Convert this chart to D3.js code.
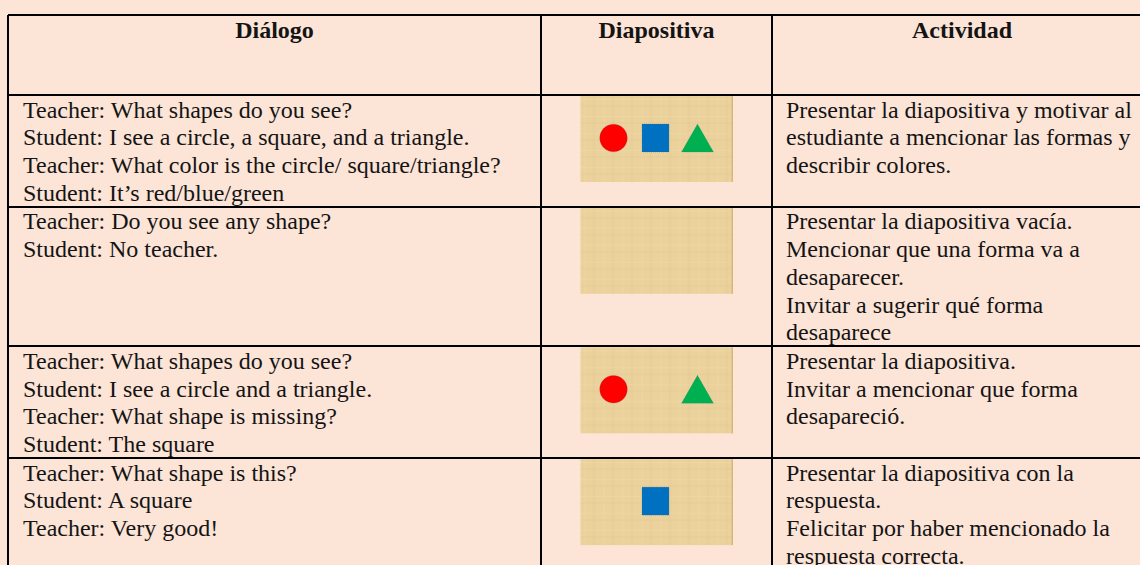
<!DOCTYPE html>
<html>
<head>
<meta charset="utf-8">
<script src="https://cdn.jsdelivr.net/npm/d3@7"></script>
<style>
  html, body { margin: 0; padding: 0; background: #fce4d7; overflow: hidden; }
  svg { display: block; }
</style>
</head>
<body>
<svg id="chart" width="1140" height="565"></svg>
<script>
// ---- data ----
const headers = ["Diálogo", "Diapositiva", "Actividad"];

const dialogue = [
  ["Teacher: What shapes do you see?",
   "Student: I see a circle, a square, and a triangle.",
   "Teacher: What color is the circle/ square/triangle?",
   "Student: It’s red/blue/green"],
  ["Teacher: Do you see any shape?",
   "Student: No teacher."],
  ["Teacher: What shapes do you see?",
   "Student: I see a circle and a triangle.",
   "Teacher: What shape is missing?",
   "Student: The square"],
  ["Teacher: What shape is this?",
   "Student: A square",
   "Teacher: Very good!"]
];

const activity = [
  ["Presentar la diapositiva y motivar al",
   "estudiante a mencionar las formas y",
   "describir colores."],
  ["Presentar la diapositiva vacía.",
   "Mencionar que una forma va a",
   "desaparecer.",
   "Invitar a sugerir qué forma",
   "desaparece"],
  ["Presentar la diapositiva.",
   "Invitar a mencionar que forma",
   "desapareció."],
  ["Presentar la diapositiva con la",
   "respuesta.",
   "Felicitar por haber mencionado la",
   "respuesta correcta."]
];

const shapeKinds = ["circle", "square", "triangle"];
const shapeColors = ["#ff0000", "#0070c0", "#00b050"];
const slideShapes = [
  ["circle", "square", "triangle"],
  [],
  ["circle", "triangle"],
  ["square"]
];

// ---- layout ----
const svg = d3.select("#chart");
const W = 1140, H = 565;
const lineH = 27.7;
const fontSize = 24;
const colEdges = [8, 541, 772, 1152];
const tableTop = 15, headerH = 80;

svg.append("rect").attr("width", W).attr("height", H).attr("fill", "#fce4d7");

// row geometry computed from line counts
const rowHeights = dialogue.map((d, i) => Math.max(d.length, activity[i].length) * lineH + 1);
const rowTops = [];
let acc = tableTop + headerH;
rowHeights.forEach(h => { rowTops.push(acc); acc += h; });
const tableBottom = acc;

const colorScale = d3.scaleOrdinal().domain(shapeKinds).range(shapeColors);

// slide texture pattern
const defs = svg.append("defs");
const pat = defs.append("pattern").attr("id", "paper")
  .attr("patternUnits", "userSpaceOnUse").attr("width", 19).attr("height", 17);
pat.append("rect").attr("width", 19).attr("height", 17).attr("fill", "#ebd29c");
pat.append("rect").attr("x", 12).attr("width", 3).attr("height", 17).attr("fill", "#e2c68f").attr("opacity", 0.35);
pat.append("rect").attr("x", 4).attr("width", 1).attr("height", 17).attr("fill", "#f0d9a6").attr("opacity", 0.5);
pat.append("rect").attr("y", 9).attr("width", 19).attr("height", 2).attr("fill", "#e4c892").attr("opacity", 0.3);
pat.append("rect").attr("y", 3).attr("width", 19).attr("height", 1).attr("fill", "#f2ddab").attr("opacity", 0.45);

const textG = svg.append("g")
  .attr("font-family", "'Liberation Serif', 'Times New Roman', serif")
  .attr("font-size", fontSize)
  .attr("fill", "#141414");

// header
textG.selectAll("text.head").data(headers).join("text")
  .attr("class", "head")
  .attr("x", (d, i) => (colEdges[i] + colEdges[i + 1]) / 2)
  .attr("y", tableTop + 23)
  .attr("text-anchor", "middle")
  .attr("font-weight", "bold")
  .text(d => d);

// body rows
const rows = textG.selectAll("g.row").data(dialogue).join("g")
  .attr("class", "row")
  .attr("transform", (d, i) => `translate(0,${rowTops[i]})`);

rows.selectAll("text.dlg").data(d => d).join("text")
  .attr("class", "dlg")
  .attr("x", colEdges[0] + 15)
  .attr("y", (d, j) => 22.7 + j * lineH)
  .text(d => d);

rows.selectAll("text.act").data((d, i) => activity[i]).join("text")
  .attr("class", "act")
  .attr("x", colEdges[2] + 14)
  .attr("y", (d, j) => 22.7 + j * lineH)
  .text(d => d);

// slides
const slideW = 152, slideH = 86;
const slideX = (colEdges[1] + colEdges[2]) / 2 - slideW / 2;
const xShape = d3.scalePoint().domain(shapeKinds).range([33, 117]);

const slides = svg.selectAll("g.slide").data(slideShapes).join("g")
  .attr("class", "slide")
  .attr("transform", (d, i) => `translate(${slideX},${rowTops[i] + 1})`);

slides.append("rect").attr("width", slideW).attr("height", slideH).attr("fill", "url(#paper)");
slides.append("rect").attr("x", slideW - 1).attr("width", 1.5).attr("height", slideH).attr("fill", "#d6b87e");

const cy = 42;
slides.each(function(d) {
  const g = d3.select(this);
  d.forEach(kind => {
    const cx = xShape(kind);
    const fill = colorScale(kind);
    let el;
    if (kind === "circle") {
      el = g.append("circle").attr("cx", cx).attr("cy", cy).attr("r", 13.8);
    } else if (kind === "square") {
      el = g.append("rect").attr("x", cx - 13.5).attr("y", cy - 14).attr("width", 27).attr("height", 28);
    } else {
      const s = 16, top = cy - 14, bot = cy + 14;
      el = g.append("path").attr("d", `M${cx},${top}L${cx + s},${bot}L${cx - s},${bot}Z`);
    }
    el.attr("fill", fill).attr("stroke", "#4a6a7a").attr("stroke-width", 0.6)
      .attr("stroke-dasharray", "1,1").attr("stroke-opacity", 0.6);
  });
});

// grid lines
const lines = svg.append("g").attr("stroke", "#000").attr("shape-rendering", "crispEdges");
// horizontal
lines.append("line").attr("x1", colEdges[0]).attr("x2", W + 20)
  .attr("y1", tableTop).attr("y2", tableTop).attr("stroke-width", 2);
lines.append("line").attr("x1", colEdges[0]).attr("x2", W + 20)
  .attr("y1", tableTop + headerH).attr("y2", tableTop + headerH).attr("stroke-width", 2);
lines.selectAll("line.rowsep").data(rowTops.slice(1)).join("line")
  .attr("class", "rowsep")
  .attr("x1", colEdges[0]).attr("x2", W + 20)
  .attr("y1", d => d).attr("y2", d => d).attr("stroke-width", 2);
// vertical
lines.selectAll("line.colsep").data(colEdges.slice(0, 3)).join("line")
  .attr("class", "colsep")
  .attr("x1", d => d).attr("x2", d => d)
  .attr("y1", tableTop).attr("y2", tableBottom)
  .attr("stroke-width", 2);
</script>
</body>
</html>
